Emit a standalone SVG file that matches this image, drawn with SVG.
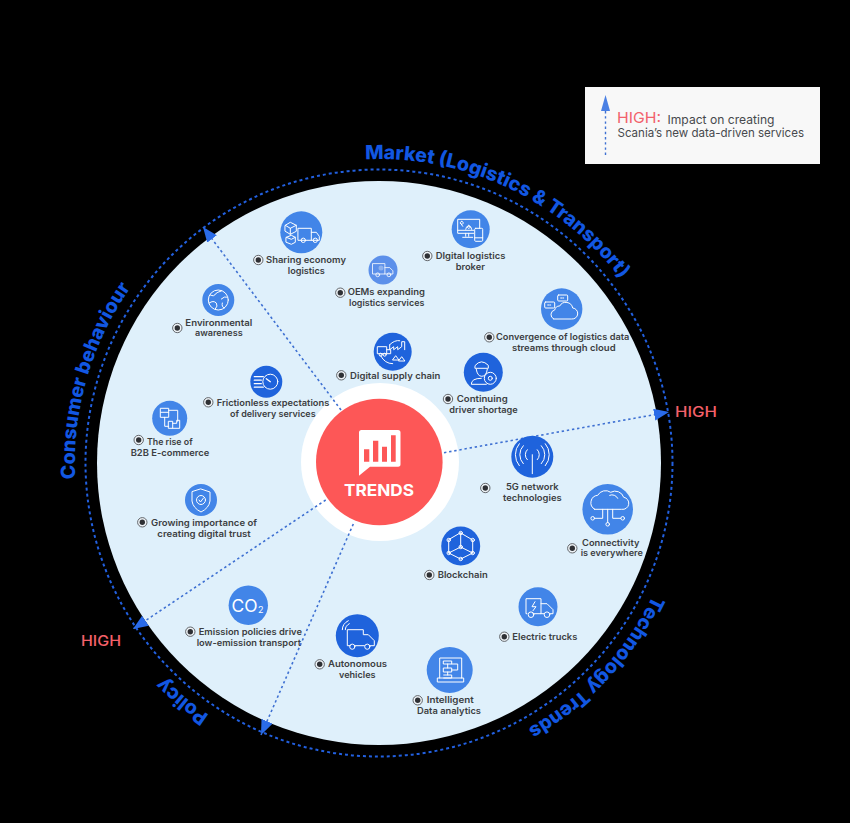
<svg xmlns="http://www.w3.org/2000/svg" xmlns:xlink="http://www.w3.org/1999/xlink" width="850" height="823" viewBox="0 0 850 823">
<style>
text{font-family:"Inter","Liberation Sans",sans-serif}
.l{font-size:9px;font-weight:600;fill:#3c3e42;text-anchor:middle}
.c{font-size:19.500px;font-weight:800;fill:#1257e2}
.h{font-size:14.500px;font-weight:500;fill:#f4606a}
.ic{fill:none;stroke:#fff;stroke-width:1;stroke-linejoin:round;stroke-linecap:round}
.a{fill:none;stroke:#3e70d2;stroke-width:1.600;stroke-dasharray:2.400 2.800;marker-end:url(#head)}
.n1{fill:#4285e8}.n2{fill:#1f63dc}.n3{fill:#5c90ea}
</style>
<defs>
<marker id="head" markerUnits="userSpaceOnUse" markerWidth="18" markerHeight="14" refX="15" refY="6" orient="auto"><path d="M0 0L15 6L0 12Z" fill="#2a6be8"/></marker>
<g id="bul"><circle r="4.700" fill="#eef3f7" stroke="#55585c" stroke-width="0.900"/><circle r="2.700" fill="#2e3034"/></g>
<g id="truck"><path d="M-12-8H3V5H-12ZM3-3H9L13 1V5H3"/><circle cx="-6" cy="6" r="2.400"/><circle cx="8" cy="6" r="2.400"/></g>
<path id="pMarket" d="M365.200 159.300A304 304 0 0 1 642 311"/>
<path id="pConsumer" d="M75.400 479A304 304 0 0 1 164 248"/>
<path id="pPolicy" d="M209 715A304 304 0 0 1 130 637"/>
<path id="pTech" d="M653 595A304 304 0 0 1 480 750"/>
</defs>
<rect width="850" height="823" fill="#000"/>
<circle cx="379" cy="463" r="282" fill="#dff0fb"/>
<circle cx="379" cy="463" r="293.500" fill="none" stroke="#2260e0" stroke-width="2" stroke-dasharray="3 3"/>
<g id="ring-labels">
<text class="c"><textPath xlink:href="#pMarket" href="#pMarket">Market (Logistics &amp; Transport)</textPath></text>
<text class="c"><textPath xlink:href="#pConsumer" href="#pConsumer">Consumer behaviour</textPath></text>
<text class="c"><textPath xlink:href="#pPolicy" href="#pPolicy">Policy</textPath></text>
<text class="c"><textPath xlink:href="#pTech" href="#pTech">Technology Trends</textPath></text>
</g>
<g id="center">
<circle cx="380" cy="462" r="79" fill="#fff"/>
<circle cx="379.300" cy="462" r="63.300" fill="#fd5757"/>
<path d="M361.500 430H398a2.500 2.500 0 0 1 2.500 2.500V464a2.500 2.500 0 0 1-2.500 2.700H370L359 475.700V432.500a2.500 2.500 0 0 1 2.500-2.500Z" fill="#fff"/>
<path d="M364 449.300h5.300V461.700H364ZM373 440.700h5.300V461.700H373ZM382 446.700h5V461.700H382ZM391 435.300h4.700V461.700H391Z" fill="#fd5757"/>
<text x="379" y="495.500" font-size="16.500" font-weight="700" fill="#fff" text-anchor="middle" textLength="70" lengthAdjust="spacingAndGlyphs">TRENDS</text>
</g>
<g id="connectors">
<path class="a" d="M341 410L203 227"/>
<path class="a" d="M444 452.700L669 412"/>
<path class="a" d="M325.700 500L133 629"/>
<path class="a" d="M353.300 524L261 735"/>
</g>
<g id="sharing"><circle class="n1" cx="301.300" cy="232.300" r="21"/><g class="ic" transform="translate(301.300 232.300)"><path d="M-16-7L-11-10L-5-7V-1L-11 2L-16-1ZM-16-7L-11-4L-5-7M-11-4V2M-15 5L-10 3L-6 5V10L-10 12L-15 10ZM-15 5L-10 7L-6 5"/><path d="M-3-4H10V8H-3ZM10 0H15L18 4V8H10"/><circle cx="2" cy="8" r="2.200"/><circle cx="14" cy="8" r="2.200"/></g><use href="#bul" x="258.300" y="260"/><text class="l" x="306" y="263" textLength="80" lengthAdjust="spacingAndGlyphs">Sharing economy</text><text class="l" x="306.300" y="274" textLength="37" lengthAdjust="spacingAndGlyphs">logistics</text></g>
<g id="oems"><circle class="n3" cx="383" cy="270" r="14.500"/><use href="#truck" class="ic" transform="translate(382.500 270) scale(.8)"/><circle cx="381" cy="268" r="2.500" fill="#8fb3ee"/><use href="#bul" x="340.300" y="292.700"/><text class="l" x="386.300" y="295.300" textLength="77.300" lengthAdjust="spacingAndGlyphs">OEMs expanding</text><text class="l" x="386.700" y="306" textLength="75.300" lengthAdjust="spacingAndGlyphs">logistics services</text></g>
<g id="broker"><circle class="n1" cx="470.700" cy="229.300" r="19"/><g class="ic" transform="translate(470.700 229.300)" stroke-width=".9"><path d="M3 4H-13V-10H9V-1M-13 1H3M-5 4V7M-2 4V7M-8 8H2"/><rect x="4" y="-1" width="8" height="13" rx="1"/><path d="M4 8.500H12M-10-6L-8-3M-9-8a1.500 1.500 0 1 0 .1 0M-2-4a1.500 1.500 0 1 0 .1 0M-5 0a3 3 0 0 1 6 0"/></g><use href="#bul" x="427.300" y="256"/><text class="l" x="470.500" y="259.300" textLength="69.700" lengthAdjust="spacingAndGlyphs">DIgital logistics</text><text class="l" x="470.300" y="270" textLength="29.300" lengthAdjust="spacingAndGlyphs">broker</text></g>
<g id="convergence"><circle class="n1" cx="561.700" cy="309" r="20.700"/><g class="ic" transform="translate(561.700 309)"><path d="M-8 10H10a5.500 5.500 0 0 0 1-11a7 7 0 0 0-13-2a5 5 0 0 0-5 4a4.800 4.800 0 0 0-1 9"/><rect x="-4" y="-14" width="10" height="6" rx="1"/><rect x="-17" y="-7" width="10" height="6" rx="1"/><path d="M-1-11H3M-14-4H-10" stroke-dasharray="1 1"/></g><use href="#bul" x="489.300" y="337.300"/><text class="l" x="562.700" y="340" textLength="133.300" lengthAdjust="spacingAndGlyphs">Convergence of logistics data</text><text class="l" x="563.800" y="351" textLength="103.700" lengthAdjust="spacingAndGlyphs">streams through cloud</text></g>
<g id="driver"><circle class="n2" cx="483.300" cy="372.300" r="19.500"/><g class="ic" transform="translate(483.300 372.300)"><path d="M-8-7Q-2-14 5-7L5-4H-8ZM-7-3Q-6 4-1.500 4Q3 4 4-3M-2 6Q-12 6-12 12H3"/><circle cx="7" cy="6" r="6"/><circle cx="7" cy="6" r="2"/></g><use href="#bul" x="448" y="399"/><text class="l" x="482.200" y="402" textLength="51" lengthAdjust="spacingAndGlyphs">Continuing</text><text class="l" x="483.500" y="412.700" textLength="68.400" lengthAdjust="spacingAndGlyphs">driver shortage</text></g>
<g id="supply"><circle class="n2" cx="392.700" cy="351.700" r="19"/><g class="ic" transform="translate(392.700 351.700)" stroke-width=".8"><path d="M-15-5H-6V2H-15ZM-6-2H-2V2H-6M-3-7V-2L1-5V-2L5-5V-2L9-5V-10H12V-2M-3-7Q2-12 7-11M-12 4Q-8 12 0 12"/><path d="M0 8L3 4L6 8ZM6 9L9 5L12 9Z"/><circle cx="-12" cy="3" r="1.500"/><circle cx="-8" cy="3" r="1.500"/></g><use href="#bul" x="341.300" y="375.300"/><text class="l" x="395.200" y="379" textLength="90.300" lengthAdjust="spacingAndGlyphs">Digital supply chain</text></g>
<g id="environment"><circle class="n1" cx="218.300" cy="300" r="16"/><g class="ic" transform="translate(218.300 300)"><circle r="10"/><path d="M-8-5Q-4-3-3-6Q-1-8 3-9M-9 3Q-5 0-2 3Q0 6-3 9M3-1Q6-4 9-3M4 3Q3 7 6 8"/></g><use href="#bul" x="177.300" y="328"/><text class="l" x="218.800" y="325.700" textLength="67" lengthAdjust="spacingAndGlyphs">Environmental</text><text class="l" x="218.800" y="336.300" textLength="47.700" lengthAdjust="spacingAndGlyphs">awareness</text></g>
<g id="frictionless"><circle class="n2" cx="266.300" cy="381.700" r="16"/><g class="ic" transform="translate(266.300 381.700)"><circle cx="4" cy="0" r="7.500"/><path d="M4 0L0-3M-12-5H-3M-12-1.500H-5M-12 2H-5M-12 5.500H-3" stroke-width="1.300"/></g><use href="#bul" x="208.300" y="402.300"/><text class="l" x="273" y="406" textLength="112.600" lengthAdjust="spacingAndGlyphs">Frictionless expectations</text><text class="l" x="272.800" y="416.700" textLength="85.700" lengthAdjust="spacingAndGlyphs">of delivery services</text></g>
<g id="b2b"><circle class="n1" cx="169.700" cy="418.300" r="17.500"/><g class="ic" transform="translate(169.700 418.300)"><path d="M-9-10H-1V-1H-9ZM-9-6H-1M-1-8H8V3M-5-1V8H-1M-1 3H3V10H-1ZM3 5H7V2H10V10H3"/></g><use href="#bul" x="138.700" y="440"/><text class="l" x="169.800" y="444.700" textLength="45.700" lengthAdjust="spacingAndGlyphs">The rise of</text><text class="l" x="170" y="455.700" textLength="78.600" lengthAdjust="spacingAndGlyphs">B2B E-commerce</text></g>
<g id="trust"><circle class="n1" cx="201" cy="500" r="16"/><g class="ic" transform="translate(201 500)"><path d="M0-11L9-8V1Q8 8 0 12Q-8 8-9 1V-8Z"/><circle r="4.500" cy="0"/><path d="M-2 0L-.5 2L2.500-2"/></g><use href="#bul" x="142.300" y="522.300"/><text class="l" x="204" y="526" textLength="106" lengthAdjust="spacingAndGlyphs">Growing importance of</text><text class="l" x="204" y="536.700" textLength="93.400" lengthAdjust="spacingAndGlyphs">creating digital trust</text></g>
<g id="network"><circle class="n2" cx="532.300" cy="456.700" r="21"/><g class="ic" transform="translate(532.300 456.700)" stroke-width="1.800"><path d="M0-2V17M-5 3a7 7 0 0 1 0-10M5 3a7 7 0 0 0 0-10M-9 7a13 13 0 0 1 0-18M9 7a13 13 0 0 0 0-18M-13 9a17 17 0 0 1 0-22M13 9a17 17 0 0 0 0-22"/></g><use href="#bul" x="485.300" y="488"/><text class="l" x="532.300" y="489.700" textLength="52.700" lengthAdjust="spacingAndGlyphs">5G network</text><text class="l" x="532.300" y="500.700" textLength="58.700" lengthAdjust="spacingAndGlyphs">technologies</text></g>
<g id="connectivity"><circle class="n1" cx="607.700" cy="509.300" r="25.300"/><g class="ic" transform="translate(607.700 509.300)" stroke-width="1.100"><path d="M-13-0H14a6 6 0 0 0 2-12a9 9 0 0 0-13-5a9 9 0 0 0-13 3a7.500 7.500 0 0 0-3 14ZM2-14a6 6 0 0 1 8 3M-5 0V9H-13M0 0V13M5 0V9H13"/><circle cx="-15" cy="9" r="1.800"/><circle cx="0" cy="15" r="1.800"/><circle cx="15" cy="9" r="1.800"/></g><use href="#bul" x="572.300" y="548.300"/><text class="l" x="610.700" y="545.700" textLength="57.300" lengthAdjust="spacingAndGlyphs">Connectivity</text><text class="l" x="611.800" y="556.300" textLength="62.300" lengthAdjust="spacingAndGlyphs">is everywhere</text></g>
<g id="electric"><circle class="n1" cx="538" cy="606.700" r="19.500"/><g class="ic" transform="translate(538 606.700)"><path d="M-11 7H-12V-8H3V7H-5M3-3H9L15 3V7H12M3 7H6"/><circle cx="-7" cy="8" r="2.800"/><circle cx="9" cy="8" r="2.800"/><path d="M-3-5L-6 0H-2L-5 4"/></g><use href="#bul" x="504.300" y="636.700"/><text class="l" x="544.800" y="639.700" textLength="65" lengthAdjust="spacingAndGlyphs">Electric trucks</text></g>
<g id="blockchain"><circle class="n2" cx="460.700" cy="546" r="19.500"/><g class="ic" transform="translate(460.700 546)" stroke-width="1.100"><path d="M0-13L12-6V7L0 13L-12 7V-6ZM0-13L0 1M-12 7L0 1L12 7"/><circle cy="-13" r="1.700"/><circle cx="12" cy="-6" r="1.700"/><circle cx="12" cy="7" r="1.700"/><circle cy="13" r="1.700"/><circle cx="-12" cy="7" r="1.700"/><circle cx="-12" cy="-6" r="1.700"/><circle cy="1" r="1.700"/></g><use href="#bul" x="429.300" y="575"/><text class="l" x="462.700" y="578" textLength="50" lengthAdjust="spacingAndGlyphs">Blockchain</text></g>
<g id="co2"><circle class="n1" cx="248.300" cy="605.300" r="19.700"/><text x="231.500" y="611.500" font-size="17" font-weight="400" fill="#fff" textLength="26" lengthAdjust="spacingAndGlyphs">CO</text><text x="258" y="613" font-size="9" fill="#fff">2</text><use href="#bul" x="190.300" y="631.700"/><text class="l" x="250.300" y="635" textLength="103.300" lengthAdjust="spacingAndGlyphs">Emission policies drive</text><text class="l" x="248.800" y="645.700" textLength="104.300" lengthAdjust="spacingAndGlyphs">low-emission transport</text></g>
<g id="autonomous"><circle class="n2" cx="357.300" cy="635.700" r="21.500"/><g class="ic" transform="translate(357.300 635.700)" stroke-width="1.300"><path d="M-7 10H-10V-6H6V-1H11L17 5V10H12M-2 10H7"/><circle cx="-5" cy="11" r="2.600"/><circle cx="10" cy="11" r="2.600"/><path d="M-12-6Q-12-10-8-12M-15-6Q-15-12-9-15"/></g><use href="#bul" x="319.700" y="664.300"/><text class="l" x="357.500" y="667" textLength="59" lengthAdjust="spacingAndGlyphs">Autonomous</text><text class="l" x="357.300" y="677.700" textLength="36.700" lengthAdjust="spacingAndGlyphs">vehicles</text></g>
<g id="analytics"><circle class="n1" cx="449.700" cy="670" r="23"/><g class="ic" transform="translate(449.700 670)"><path d="M-10 8V-12H12V8M-12 8H14V12H-12ZM-6-9H2V-6H-6ZM-6-2H2V2H-6ZM-6 5H2V8H-6M-2-6V-2M-2 2V5M2 0H8V-6H2"/></g><use href="#bul" x="417.700" y="700.300"/><text class="l" x="450.200" y="703.300" textLength="47" lengthAdjust="spacingAndGlyphs">Intelligent</text><text class="l" x="449" y="714" textLength="64" lengthAdjust="spacingAndGlyphs">Data analytics</text></g>
<g id="high-labels">
<text class="h" x="675" y="417" textLength="42" lengthAdjust="spacingAndGlyphs">HIGH</text>
<text class="h" x="81" y="646" textLength="40" lengthAdjust="spacingAndGlyphs">HIGH</text>
</g>
<g id="legend">
<rect x="585" y="87" width="235" height="77" fill="#f8f8f8"/>
<path d="M605.500 155V111" fill="none" stroke="#3e70d2" stroke-width="1.400" stroke-dasharray="2.400 2.800"/>
<path d="M605.500 95L610 111H601Z" fill="#4a80e4"/>
<text x="617" y="123" font-size="15" fill="#f2616b" textLength="44" lengthAdjust="spacingAndGlyphs">HIGH:</text>
<text x="667.500" y="124" font-size="12" fill="#47494d" textLength="107" lengthAdjust="spacingAndGlyphs">Impact on creating</text>
<text x="617.500" y="136.500" font-size="12" fill="#47494d" textLength="186.500" lengthAdjust="spacingAndGlyphs">Scania’s new data-driven services</text>
</g>
</svg>
